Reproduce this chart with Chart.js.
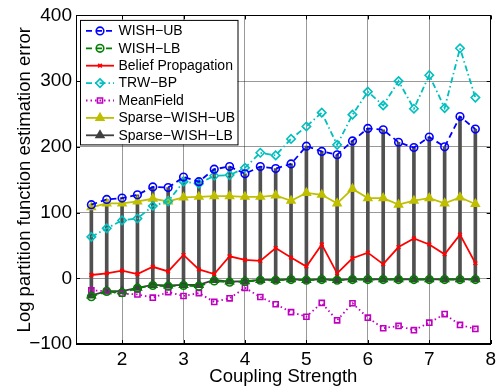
<!DOCTYPE html>
<html lang="en">
<head>
  <meta charset="UTF-8" />
  <title>Log partition function estimation error</title>
  <script src="https://cdn.jsdelivr.net/npm/chart.js"></script>
  <style>
    html, body { margin: 0; padding: 0; background: #fff; }
    #wrap { width: 500px; height: 390px; }
  </style>
</head>
<body>
  <div id="wrap"><canvas id="chart"></canvas></div>

  <script>
    // coupling strengths on the x axis
    const coupling = [1.5, 1.75, 2, 2.25, 2.5, 2.75, 3, 3.25, 3.5, 3.75, 4, 4.25, 4.5,
                      4.75, 5, 5.25, 5.5, 5.75, 6, 6.25, 6.5, 6.75, 7, 7.25, 7.5, 7.75];

    const wishUB = [112, 120, 122, 127, 139, 138, 154, 147, 166, 170, 159, 170, 167,
                    174, 201, 193, 188, 209, 228, 226, 207, 199, 215, 200, 246, 227];
    const wishLB = [-28, -20, -22, -15, -11, -12, -11, -12, -4, -6, -5, -3, -3,
                    -2, -3, -2, -3, -2, -2, -2, -2, -2, -2, -2, -2, -2];
    const beliefProp = [5, 7.5, 11.5, 6.5, 17.5, 10.5, 35.5, 13.5, 6.5, 33.5, 28, 26.5, 46,
                        31.5, 18, 51.5, 7.5, 30.5, 39, 21.5, 47.5, 60.5, 51.5, 36.5, 66.5, 23];
    const trwBP = [63, 76, 88, 91, 110, 117, 147, 144, 156, 157, 168, 191, 187,
                   212, 231, 252, 203, 249, 284, 263, 300, 258, 309, 259, 350, 275];
    const meanField = [-18.5, -19.5, -23.5, -24.5, -29.5, -21, -27, -22.5, -36, -30.5, -14.5, -28.5, -39.5,
                       -51.5, -58.5, -37.5, -64, -38, -60, -76, -72.5, -79, -67.5, -54.5, -71, -77];
    const sparseUB = [108, 114, 114, 117, 121, 117, 123, 124, 125, 125, 124, 124, 126,
                      118, 130, 127, 114, 136, 122, 122, 112, 118, 122, 114, 123, 113];
    const sparseLB = [-26, -19.5, -19.5, -14.5, -10, -11, -10, -10, -2.5, -5, -4.5, -2.5, -2.5,
                      -1.5, -2.5, -1.5, -2.5, -1.5, -1.5, -1.5, -1.5, -1.5, -1.5, -1.5, -1.5, -1.5];

    const xTicks = [2, 3, 4, 5, 6, 7, 8];
    const yTicks = [-100, 0, 100, 200, 300, 400];

    const FONT = "'Liberation Sans', Arial, Helvetica, sans-serif";

    const pts = ys => coupling.map((x, i) => ({ x: x, y: ys[i] }));

    function series(label, ys, color, dash, style, radius, hollow) {
      return {
        label: label,
        data: pts(ys),
        borderColor: color,
        borderWidth: 1.8,
        borderDash: dash,
        pointStyle: style,
        pointRadius: radius,
        pointBorderColor: color,
        pointBackgroundColor: hollow ? 'rgba(0,0,0,0)' : color,
        pointBorderWidth: 1.6,
        tension: 0
      };
    }

    // legend box drawn inside the plot, matlab style (line sample + marker)
    const boxLegend = {
      id: 'boxLegend',
      afterDatasetsDraw(chart) {
        const ctx = chart.ctx;
        const area = chart.chartArea;
        const items = chart.data.datasets.filter(d => d.type !== 'bar');
        const left = area.left + 4, top = area.top + 4.5;
        const w = 157.5, h = 124.5, step = 17.4;
        ctx.save();
        ctx.fillStyle = '#fff';
        ctx.fillRect(left, top, w, h);
        ctx.strokeStyle = '#000';
        ctx.lineWidth = 1;
        ctx.setLineDash([]);
        ctx.strokeRect(left + 0.5, top + 0.5, w, h);
        items.forEach((d, i) => {
          const y = top + 11 + i * step;
          ctx.beginPath();
          ctx.setLineDash(d.borderDash || []);
          ctx.strokeStyle = d.borderColor;
          ctx.lineWidth = d.borderWidth;
          ctx.moveTo(left + 6, y);
          ctx.lineTo(left + 34, y);
          ctx.stroke();
          ctx.setLineDash([]);
          ctx.fillStyle = d.pointBackgroundColor;
          ctx.strokeStyle = d.pointBorderColor;
          ctx.lineWidth = d.pointBorderWidth;
          Chart.helpers.drawPoint(ctx, {
            pointStyle: d.pointStyle, radius: d.pointRadius,
            rotation: 0, borderWidth: d.pointBorderWidth
          }, left + 20, y);
          ctx.fillStyle = '#000';
          ctx.font = '14px ' + FONT;
          ctx.textBaseline = 'middle';
          ctx.textAlign = 'left';
          ctx.fillText(d.label, left + 38.5, y + 0.5);
        });
        ctx.restore();
      }
    };

    // black frame around the axes with inward tick marks
    const frame = {
      id: 'frame',
      afterDraw(chart) {
        const ctx = chart.ctx;
        const a = chart.chartArea;
        const xs = chart.scales.x, ys = chart.scales.y;
        ctx.save();
        ctx.strokeStyle = '#000';
        ctx.lineWidth = 1;
        ctx.strokeRect(Math.round(a.left) + 0.5, Math.round(a.top) + 0.5,
                       Math.round(a.right - a.left) - 1, Math.round(a.bottom - a.top) - 1);
        ctx.beginPath();
        xTicks.forEach(v => {
          const px = Math.round(xs.getPixelForValue(v)) + 0.5;
          ctx.moveTo(px, a.bottom); ctx.lineTo(px, a.bottom - 4);
          ctx.moveTo(px, a.top); ctx.lineTo(px, a.top + 4);
        });
        yTicks.forEach(v => {
          const py = Math.round(ys.getPixelForValue(v)) + 0.5;
          ctx.moveTo(a.left, py); ctx.lineTo(a.left + 4, py);
          ctx.moveTo(a.right, py); ctx.lineTo(a.right - 4, py);
        });
        ctx.stroke();
        ctx.restore();
      }
    };

    new Chart(document.getElementById('chart'), {
      type: 'line',
      data: {
        datasets: [
          series('WISH\u2212UB', wishUB, '#0000ff', [6, 4], 'circle', 3.8, true),
          series('WISH\u2212LB', wishLB, '#008000', [6, 4], 'circle', 3.8, true),
          series('Belief Propagation', beliefProp, '#ff0000', [], 'crossRot', 2.6, true),
          series('TRW\u2212BP', trwBP, '#00bfbf', [6, 3, 1.5, 3], 'rectRot', 4.2, true),
          series('MeanField', meanField, '#bf00bf', [1.5, 3], 'rect', 3.6, true),
          series('Sparse\u2212WISH\u2212UB', sparseUB, '#bfbf00', [], 'triangle', 4.5, false),
          series('Sparse\u2212WISH\u2212LB', sparseLB, '#404040', [], 'triangle', 4.5, false),
          {
            type: 'bar',
            label: 'range',
            data: coupling.map((x, i) => ({ x: x, y: [sparseLB[i], wishUB[i]] })),
            backgroundColor: '#505050',
            barThickness: 3,
            grouped: false
          }
        ]
      },
      options: {
        responsive: true,
        maintainAspectRatio: false,
        animation: false,
        layout: { padding: { top: 11, right: 5, left: 0, bottom: 0 } },
        plugins: {
          legend: { display: false },
          tooltip: { enabled: false }
        },
        scales: {
          x: {
            type: 'linear',
            min: 1.25,
            max: 8,
            offset: false,
            afterBuildTicks: s => { s.ticks = xTicks.map(v => ({ value: v })); },
            afterFit: s => { s.height = 46; },
            border: { color: '#000', width: 1 },
            grid: { color: 'rgba(0,0,0,0.4)', borderDash: [1, 3], drawTicks: false, offset: false },
            ticks: { color: '#000', padding: 4, maxRotation: 0, font: { family: FONT, size: 19 } },
            title: {
              display: true, text: 'Coupling Strength', color: '#000',
              padding: { top: 0, bottom: 2 }, font: { family: FONT, size: 18.5 }
            }
          },
          y: {
            min: -100,
            max: 400,
            afterBuildTicks: s => { s.ticks = yTicks.map(v => ({ value: v })); },
            afterFit: s => { s.width = 76; },
            border: { color: '#000', width: 1 },
            grid: { color: 'rgba(0,0,0,0.4)', borderDash: [1, 3], drawTicks: false },
            ticks: {
              color: '#000', padding: 4, font: { family: FONT, size: 19 },
              callback: v => String(v).replace('-', '\u2212')
            },
            title: {
              display: true, text: 'Log partition function estimation error', color: '#000',
              padding: { top: 14, bottom: 0 }, font: { family: FONT, size: 18.5 }
            }
          }
        }
      },
      plugins: [boxLegend, frame]
    });
  </script>
</body>
</html>
